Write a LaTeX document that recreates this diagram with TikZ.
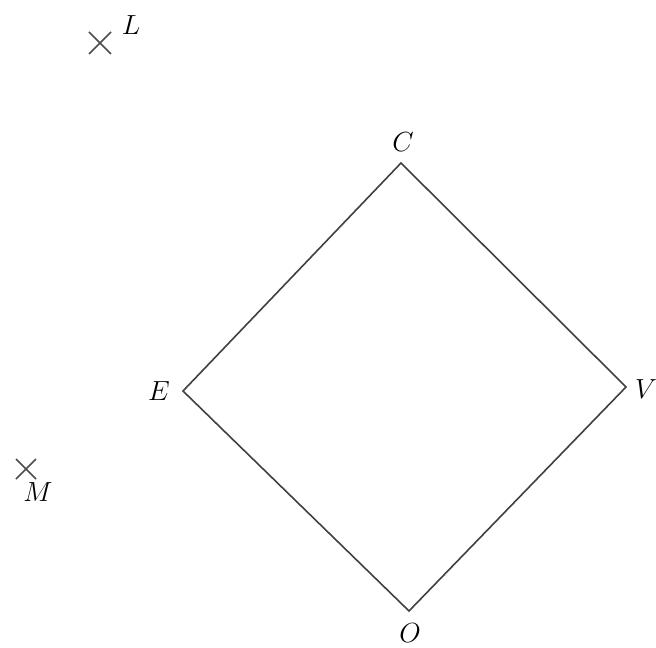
\documentclass[tikz,border=0pt]{standalone}
\usetikzlibrary{calc}
\begin{document}
\begin{tikzpicture}[x=0.75pt,y=-0.75pt,
  lbl/.style={inner sep=0pt,font=\fontsize{21}{23}\selectfont},
  edge/.style={draw=black!75,line width=1.2pt,line join=miter},
  crossmark/.style={draw=black!70,line width=1.2pt}]
\useasboundingbox (0,0) rectangle (656,648);
\coordinate (C) at (401,163);
\coordinate (V) at (626,387);
\coordinate (O) at (409,611);
\coordinate (E) at (183,391);
\draw[edge] (C) -- (V) -- (O) -- (E) -- cycle;
\node[lbl] (lC) at (403,142) {$C$};
\node[lbl] (lV) at (646,389) {$V$};
\node[lbl] (lO) at (410,633) {$O$};
\node[lbl] (lE) at (159,391) {$E$};
\coordinate (L) at (100,43);
\draw[crossmark] ($(L)+(-11,-11)$) -- ($(L)+(11,11)$) ($(L)+(-11,11)$) -- ($(L)+(11,-11)$);
\node[lbl] (lL) at (131,25) {$L$};
\coordinate (M) at (26,469);
\draw[crossmark] ($(M)+(-10,-10)$) -- ($(M)+(10,10)$) ($(M)+(-10,10)$) -- ($(M)+(10,-10)$);
\node[lbl] (lM) at (38,492) {$M$};
\end{tikzpicture}
\end{document}
